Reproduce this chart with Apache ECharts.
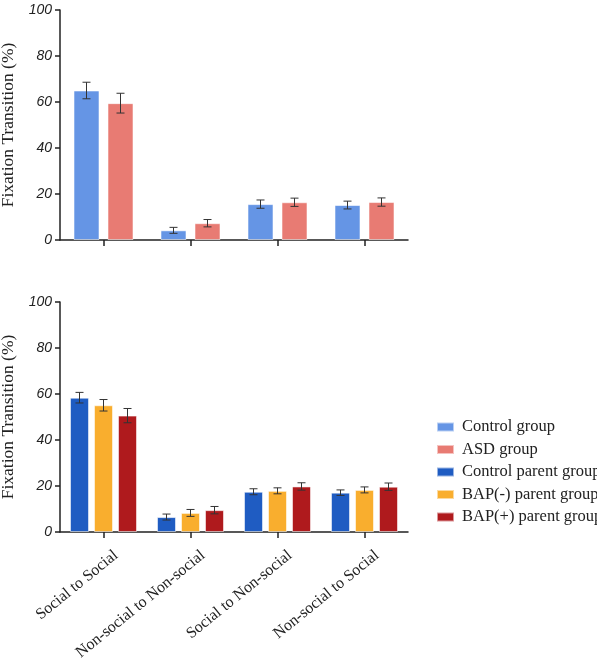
<!DOCTYPE html>
<html>
<head>
<meta charset="utf-8">
<script src="https://cdn.jsdelivr.net/npm/echarts@6/dist/echarts.min.js"></script>
<style>html,body{margin:0;padding:0;background:#fff;}#c{width:597px;height:658px;}</style>
</head>
<body>
<div id="c"></div>
<script>
var categories = ['Social to Social', 'Non-social to Non-social', 'Social to Non-social', 'Non-social to Social'];
var yTicks = [0, 20, 40, 60, 80, 100];

var controlGroup = [65.0, 4.2, 15.6, 15.2];
var controlGroupErr = [3.6, 1.3, 1.8, 1.7];
var asdGroup = [59.5, 7.3, 16.4, 16.5];
var asdGroupErr = [4.3, 1.6, 1.8, 1.8];

var controlParent = [58.4, 6.5, 17.5, 17.1];
var controlParentErr = [2.3, 1.3, 1.3, 1.2];
var bapMinus = [55.1, 8.3, 17.9, 18.3];
var bapMinusErr = [2.5, 1.5, 1.3, 1.3];
var bapPlus = [50.6, 9.5, 19.8, 19.7];
var bapPlusErr = [3.1, 1.6, 1.6, 1.6];

var seriesNames = ['Control group', 'ASD group', 'Control parent group', 'BAP(-) parent group', 'BAP(+) parent group'];
var colors = ['#6595E5', '#E87B73', '#1F5CC2', '#F9AE2E', '#AF1A1D'];

var chart = echarts.init(document.getElementById('c'), null, {renderer: 'canvas'});
var axisColor = '#222';

function yAxis(idx) {
  return {
    gridIndex: idx, type: 'value', min: 0, max: 100, interval: 20,
    name: 'Fixation Transition (%)', nameLocation: 'middle', nameGap: 37, nameRotate: 90,
    nameTextStyle: {fontFamily: 'Liberation Serif', fontSize: 17.5, color: '#222'},
    axisLine: {show: true, lineStyle: {color: axisColor, width: 1.5}},
    axisTick: {show: true, length: 5, lineStyle: {color: axisColor, width: 1.5}},
    axisLabel: {fontFamily: 'Liberation Sans', fontStyle: 'italic', fontSize: 14, color: '#222', margin: 8,
      formatter: function (v) { return yTicks.indexOf(v) >= 0 ? String(v) : ''; }},
    splitLine: {show: false}
  };
}
function xAxis(idx, showLabels) {
  return {
    gridIndex: idx, type: 'category', data: categories,
    axisLine: {lineStyle: {color: axisColor, width: 1.5}},
    axisTick: {show: true, alignWithLabel: true, interval: 0, length: 6, lineStyle: {color: axisColor, width: 1.5}},
    axisLabel: showLabels ? {show: true, rotate: 39, interval: 0, fontFamily: 'Liberation Serif', fontSize: 16, color: '#222',
      margin: 6, verticalAlign: 'top', padding: [12, 0, 0, 0]} : {show: false, interval: 0}
  };
}

function barSeries(name, data, color, axisIdx, barWidth, gap) {
  return {
    name: name, type: 'bar', xAxisIndex: axisIdx, yAxisIndex: axisIdx, data: data,
    barWidth: barWidth, barGap: gap,
    itemStyle: {color: color, borderColor: 'rgba(255,255,255,0.55)', borderWidth: 1},
    z: 2
  };
}
function errSeries(values, errs, axisIdx, offset) {
  var d = values.map(function (v, i) { return [i, v - errs[i], v + errs[i]]; });
  return {
    type: 'custom', xAxisIndex: axisIdx, yAxisIndex: axisIdx, data: d, z: 5, silent: true,
    renderItem: function (params, api) {
      var lo = api.coord([api.value(0), api.value(1)]);
      var hi = api.coord([api.value(0), api.value(2)]);
      var x = lo[0] + offset, cap = 4;
      var st = {stroke: '#333', lineWidth: 1};
      return {type: 'group', children: [
        {type: 'line', shape: {x1: x, y1: lo[1], x2: x, y2: hi[1]}, style: st},
        {type: 'line', shape: {x1: x - cap, y1: lo[1], x2: x + cap, y2: lo[1]}, style: st},
        {type: 'line', shape: {x1: x - cap, y1: hi[1], x2: x + cap, y2: hi[1]}, style: st}
      ]};
    }
  };
}

var bwTop = 26, gapTop = 8, bwBot = 19, gapBot = 5;
var offTop = (bwTop + gapTop) / 2;
var offBot = bwBot + gapBot;

chart.setOption({
  animation: false,
  color: colors,
  grid: [
    {left: 60, top: 10, width: 348, height: 230, containLabel: false, outerBoundsMode: 'none'},
    {left: 60, top: 302, width: 348, height: 230, containLabel: false, outerBoundsMode: 'none'}
  ],
  xAxis: [xAxis(0, false), xAxis(1, true)],
  yAxis: [yAxis(0), yAxis(1)],
  legend: {
    orient: 'vertical', left: 436, top: 418, padding: 0, itemWidth: 17, itemHeight: 9, itemGap: 4.5,
    icon: 'rect',
    textStyle: {fontFamily: 'Liberation Serif', fontSize: 16.5, color: '#222', lineHeight: 18, padding: [0, 0, 0, 3]},
    data: seriesNames
  },
  series: [
    barSeries(seriesNames[0], controlGroup, colors[0], 0, bwTop, gapTop / bwTop * 100 + '%'),
    barSeries(seriesNames[1], asdGroup, colors[1], 0, bwTop, gapTop / bwTop * 100 + '%'),
    barSeries(seriesNames[2], controlParent, colors[2], 1, bwBot, gapBot / bwBot * 100 + '%'),
    barSeries(seriesNames[3], bapMinus, colors[3], 1, bwBot, gapBot / bwBot * 100 + '%'),
    barSeries(seriesNames[4], bapPlus, colors[4], 1, bwBot, gapBot / bwBot * 100 + '%'),
    errSeries(controlGroup, controlGroupErr, 0, -offTop),
    errSeries(asdGroup, asdGroupErr, 0, offTop),
    errSeries(controlParent, controlParentErr, 1, -offBot),
    errSeries(bapMinus, bapMinusErr, 1, 0),
    errSeries(bapPlus, bapPlusErr, 1, offBot)
  ]
});
</script>
</body>
</html>
